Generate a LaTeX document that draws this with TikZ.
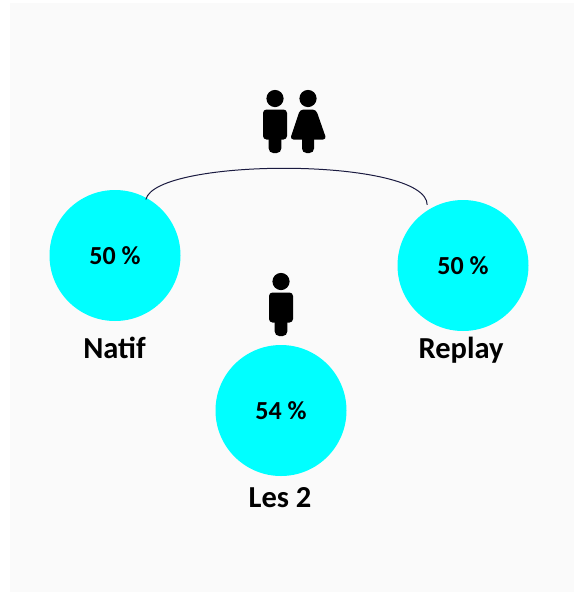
\documentclass[tikz,border=0pt]{standalone}
\usepackage{fontspec}
\setmainfont{Carlito}
\definecolor{panelgray}{HTML}{FAFAFA}
\definecolor{discqcyan}{HTML}{00FFFF}
\definecolor{arcnavy}{HTML}{1A1A40}
\tikzset{
  disc/.style={circle,fill=discqcyan,minimum size=131pt,inner sep=0pt,font=\bfseries\fontsize{26}{26}\selectfont},
  caption/.style={font=\bfseries\fontsize{30.5}{30.5}\selectfont,inner sep=0pt,anchor=base},
  pics/manfig/.style={code={
    \fill (0,0) circle (8.6);
    \fill[rounded corners=3.5pt] (-12,11) rectangle (12,41);
    \fill[rounded corners=4.5pt] (-6.3,35) rectangle (6.3,54.5);
  }},
  pics/womanfig/.style={code={
    \fill (0,0) circle (8.6);
    \fill[rounded corners=3.5pt] (-8,11) -- (8,11) -- (18.5,41) -- (-18,41) -- cycle;
    \fill[rounded corners=4.5pt] (-6,35) rectangle (6,54.5);
  }}
}
\begin{document}
\begin{tikzpicture}[x=1pt,y=-1pt]
\useasboundingbox (0,0) rectangle (574,592);
\fill [panelgray] (10,3) rectangle (574,592);
\node [disc] (natif) at (115,255.5) {50 \%};
\node [disc] (replay) at (463,265.5) {50 \%};
\node [disc] (both) at (281,410.5) {54 \%};
\node [caption] (natiflabel) at (114.5,358) {Natif};
\node [caption] (replaylabel) at (461,358) {Replay};
\node [caption] (bothlabel) at (280,507) {Les 2};
\draw [arcnavy,line width=1pt,shorten >=5.5pt] ([yshift=-2pt]natif.62) .. controls (156,157) and (427,157) .. (replay.123);
\pic at (275,98.5) {manfig};
\pic at (308,98.5) {womanfig};
\pic at (281,281.5) {manfig};
\end{tikzpicture}
\end{document}
